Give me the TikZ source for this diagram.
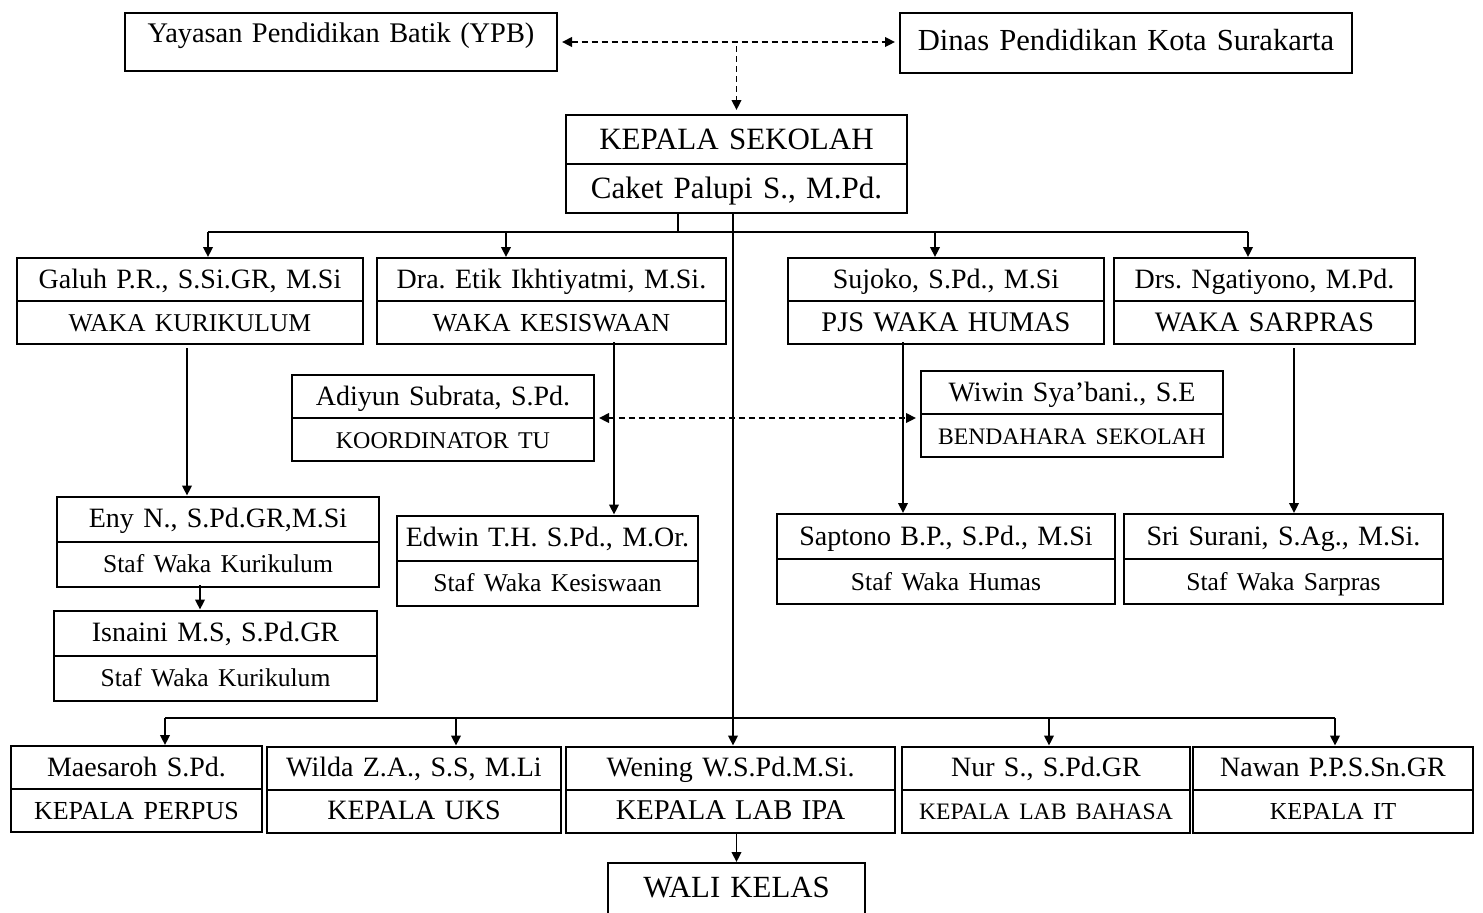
\documentclass[tikz,border=0pt]{standalone}
\usepackage{fontspec}
\setmainfont{Liberation Serif}
\usepackage{tikz}
\usetikzlibrary{arrows.meta,shapes.multipart,calc}
\frenchspacing
\newcommand{\fs}[1]{\fontsize{#1}{#1}\selectfont}
\newcommand{\partn}{\rule[-5.8pt]{0pt}{20.5pt}}
\newcommand{\partt}{\rule[-6.3pt]{0pt}{21.5pt}}
\newcommand{\partk}{\rule[-7pt]{0pt}{23.5pt}}

\begin{document}
\begin{tikzpicture}[x=0.5pt,y=-0.5pt,>={Triangle[length=5pt,width=4.8pt]},
  sbox/.style={draw,line width=1pt,inner sep=0pt,align=center},
  pbox/.style={rectangle split,rectangle split parts=2,draw,line width=1pt,
    inner sep=0pt,align=center,font=\fs{14}},
  link/.style={line width=0.9pt},
  arr/.style={->,line width=0.9pt},
  dashline/.style={line width=0.9pt,dash pattern=on 3pt off 2pt,shorten <=2pt,shorten >=2pt},
  dasharr/.style={dashline,<->}]
\useasboundingbox (0,0) rectangle (1483,912);
\node[sbox,text width=216pt,text height=14.5pt,text depth=14.5pt,font=\fs{14.2}] (ypb) at (341,42) {Yayasan Pendidikan Batik (YPB)};
\node[sbox,text width=226pt,text height=18.5pt,text depth=11.5pt,font=\fs{15.3}] (dinas) at (1126,43) {Dinas Pendidikan Kota Surakarta};
\node[pbox,text width=170.5pt,font=\fs{15.5}] (kepala) at (736.5,164) {\partk KEPALA SEKOLAH\nodepart{two}\partk Caket Palupi S., M.Pd.};

\node[pbox,text width=173pt] (galuh) at (190,301) {\partn Galuh P.R., S.Si.GR, M.Si\nodepart{two}\partn\fs{12.8}WAKA KURIKULUM};
\node[pbox,text width=174.5pt] (etik) at (551.5,301) {\partn Dra. Etik Ikhtiyatmi, M.Si.\nodepart{two}\partn\fs{13}WAKA KESISWAAN};
\node[pbox,text width=158pt] (sujoko) at (946,301) {\partn Sujoko, S.Pd., M.Si\nodepart{two}\partn\fs{14.2}PJS WAKA HUMAS};
\node[pbox,text width=150.5pt] (ngatiyono) at (1264.5,301) {\partn Drs. Ngatiyono, M.Pd.\nodepart{two}\partn\fs{14.1}WAKA SARPRAS};
\node[pbox,text width=151pt] (adiyun) at (443,418) {\partn Adiyun Subrata, S.Pd.\nodepart{two}\partn\fs{12}KOORDINATOR TU};
\node[pbox,text width=151pt] (wiwin) at (1072,414) {\partn Wiwin Sya’bani., S.E\nodepart{two}\partn\fs{11.8}BENDAHARA SEKOLAH};

\node[pbox,text width=161pt] (eny) at (218,541.5) {\partt Eny N., S.Pd.GR,M.Si\nodepart{two}\partt\fs{12.8}Staf Waka Kurikulum};
\node[pbox,text width=161.5pt] (isnaini) at (215.5,655.5) {\partt Isnaini M.S, S.Pd.GR\nodepart{two}\partt\fs{12.8}Staf Waka Kurikulum};
\node[pbox,text width=150.5pt] (edwin) at (547.5,560.5) {\partt Edwin T.H. S.Pd., M.Or.\nodepart{two}\partt\fs{12.8}Staf Waka Kesiswaan};
\node[pbox,text width=169pt] (saptono) at (946,559) {\partt Saptono B.P., S.Pd., M.Si\nodepart{two}\partt\fs{12.8}Staf Waka Humas};
\node[pbox,text width=159.5pt] (sri) at (1283.5,559) {\partt Sri Surani, S.Ag., M.Si.\nodepart{two}\partt\fs{12.8}Staf Waka Sarpras};

\node[pbox,text width=125.5pt] (perpus) at (136.5,789) {\partn Maesaroh S.Pd.\nodepart{two}\partn\fs{13}KEPALA PERPUS};
\node[pbox,text width=147pt] (uks) at (414,789.5) {\partn Wilda Z.A., S.S, M.Li\nodepart{two}\partn KEPALA UKS};
\node[pbox,text width=164.5pt] (labipa) at (730.5,789.5) {\partn Wening W.S.Pd.M.Si.\nodepart{two}\partn\fs{14.3}KEPALA LAB IPA};
\node[pbox,text width=144pt] (labbhs) at (1046,789.5) {\partn Nur S., S.Pd.GR\nodepart{two}\partn\fs{11.8}KEPALA LAB BAHASA};
\node[pbox,text width=140pt] (it) at (1333,789.5) {\partn Nawan P.P.S.Sn.GR\nodepart{two}\partn\fs{12.2}KEPALA IT};
\node[sbox,text width=128.5pt,text height=17pt,text depth=13pt,font=\fs{15.4},anchor=north] (wali) at (736.5,862) {WALI KELAS};

\coordinate (kdrop) at (678,232);
\coordinate (t1) at (208,232); \coordinate (t2) at (506,232);
\coordinate (t3) at (935,232); \coordinate (t4) at (1248,232);
\coordinate (u1) at (165,718); \coordinate (u2) at (456,718); \coordinate (u3) at (733,718);
\coordinate (u4) at (1049,718); \coordinate (u5) at (1335,718);
\coordinate (v1) at (187,348); \coordinate (v2) at (200,585); \coordinate (v3) at (614,342);
\coordinate (v4) at (903,342); \coordinate (v5) at (1294,348);

\draw[dasharr] (ypb.east) -- (ypb.east -| dinas.west);
\draw[dashline,->] (kepala.north |- ypb.east) -- (kepala.north);
\draw[link] (kdrop |- kepala.south) -- (kdrop);
\draw[link] (t1) -- (t4);
\foreach \t/\n in {t1/galuh,t2/etik,t3/sujoko,t4/ngatiyono}
  \draw[arr] (\t) -- (\t |- \n.north);
\draw[arr] (v1) -- (v1 |- eny.north);
\draw[arr] (v2) -- (v2 |- isnaini.north);
\draw[arr] (v3) -- (v3 |- edwin.north);
\draw[arr] (v4) -- (v4 |- saptono.north);
\draw[arr] (v5) -- (v5 |- sri.north);
\draw[dasharr] (adiyun.east) -- (adiyun.east -| wiwin.west);
\draw[arr] (u3 |- kepala.south) -- (u3 |- labipa.north);
\draw[link] (u1) -- (u5);
\foreach \u/\n in {u1/perpus,u2/uks,u4/labbhs,u5/it}
  \draw[arr] (\u) -- (\u |- \n.north);
\draw[arr] (wali.north |- labipa.south) -- (wali.north);
\end{tikzpicture}
\end{document}
